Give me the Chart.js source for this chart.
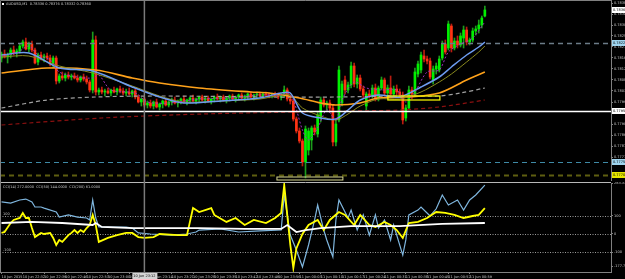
<!DOCTYPE html>
<html>
<head>
<meta charset="utf-8">
<script src="https://cdn.jsdelivr.net/npm/chart.js@4.4.0/dist/chart.umd.min.js"></script>
<style>
  html, body { margin: 0; padding: 0; background: #000; overflow: hidden; }
  #wrap { position: relative; width: 625px; height: 279px; }
  #mainChart { position: absolute; left: 0; top: 0; }
  #cciChart { position: absolute; left: 0; top: 182px; }
</style>
</head>
<body>
<div id="wrap">
  <canvas id="mainChart" width="625" height="182"></canvas>
  <canvas id="cciChart" width="625" height="97"></canvas>
</div>
<script>
// ============================================
// AUDUSD M1 - candles, MAs, CCI sub window
// ============================================

const symbolName = 'AUDUSD,M1';

// one entry per bar
const open = [
  0.78168,0.78184,0.78172,0.78180,0.78200,0.78188,0.78196,0.78216,0.78232,0.78204,
  0.78224,0.78200,0.78152,0.78180,0.78168,0.78176,0.78168,0.78144,0.78168,0.78076,
  0.78096,0.78088,0.78100,0.78092,0.78096,0.78088,0.78080,0.78092,0.78084,0.78072,
  0.78040,0.78240,0.78032,0.78040,0.78032,0.78036,0.78028,0.78040,0.78032,0.78044,
  0.78036,0.78028,0.78032,0.78024,0.78036,0.78012,0.77992,0.78004,0.77980,0.77988,
  0.77976,0.77992,0.77972,0.77984,0.77996,0.77980,0.77992,0.78000,0.77988,0.77996,
  0.78004,0.77992,0.78000,0.78008,0.77996,0.78004,0.78012,0.78000,0.78008,0.77996,
  0.78004,0.78012,0.78004,0.78012,0.78000,0.78008,0.78016,0.78004,0.78012,0.78020,
  0.78008,0.78016,0.78024,0.78012,0.78020,0.78024,0.78016,0.78024,0.78020,0.78016,
  0.78024,0.78016,0.78012,0.78020,0.78040,0.78004,0.77996,0.77924,0.77876,0.77836,
  0.77752,0.77800,0.77840,0.77888,0.77864,0.77928,0.78000,0.77980,0.77988,0.77968,
  0.77832,0.77920,0.77988,0.78080,0.78040,0.78060,0.78136,0.78064,0.78088,0.78044,
  0.77976,0.78024,0.78016,0.78048,0.78004,0.78048,0.78080,0.78028,0.78048,0.78024,
  0.78044,0.78032,0.78020,0.77928,0.77968,0.78040,0.78024,0.78104,0.78120,0.78176,
  0.78164,0.78156,0.78080,0.78124,0.78120,0.78168,0.78224,0.78208,0.78296,0.78208,
  0.78236,0.78220,0.78248,0.78280,0.78232,0.78240,0.78276,0.78284,0.78300,0.78336
];
const high = [
  0.78192,0.78200,0.78188,0.78208,0.78216,0.78204,0.78224,0.78240,0.78248,0.78232,
  0.78236,0.78208,0.78188,0.78192,0.78184,0.78188,0.78180,0.78176,0.78176,0.78104,
  0.78112,0.78108,0.78112,0.78104,0.78108,0.78100,0.78096,0.78104,0.78096,0.78080,
  0.78272,0.78256,0.78048,0.78052,0.78044,0.78048,0.78044,0.78052,0.78048,0.78056,
  0.78048,0.78044,0.78048,0.78040,0.78044,0.78020,0.78008,0.78012,0.77996,0.78000,
  0.77996,0.78004,0.77988,0.78000,0.78004,0.77996,0.78008,0.78012,0.78000,0.78008,
  0.78016,0.78004,0.78012,0.78020,0.78008,0.78016,0.78020,0.78012,0.78016,0.78008,
  0.78016,0.78024,0.78016,0.78020,0.78012,0.78020,0.78024,0.78016,0.78024,0.78028,
  0.78020,0.78028,0.78032,0.78024,0.78032,0.78032,0.78028,0.78032,0.78028,0.78028,
  0.78032,0.78028,0.78024,0.78056,0.78048,0.78016,0.78004,0.77932,0.77888,0.77844,
  0.77896,0.77888,0.77896,0.77900,0.77952,0.78012,0.78008,0.77996,0.78000,0.77980,
  0.77920,0.78136,0.78076,0.78096,0.78072,0.78152,0.78148,0.78100,0.78100,0.78056,
  0.78032,0.78040,0.78060,0.78064,0.78056,0.78092,0.78088,0.78060,0.78096,0.78056,
  0.78060,0.78044,0.78032,0.77980,0.78056,0.78052,0.78128,0.78156,0.78192,0.78200,
  0.78176,0.78168,0.78136,0.78148,0.78176,0.78236,0.78240,0.78316,0.78304,0.78248,
  0.78256,0.78268,0.78296,0.78292,0.78248,0.78288,0.78296,0.78320,0.78336,0.78376
];
const low = [
  0.78152,0.78168,0.78148,0.78168,0.78180,0.78172,0.78188,0.78208,0.78200,0.78192,
  0.78192,0.78144,0.78140,0.78160,0.78152,0.78160,0.78136,0.78132,0.78064,0.78068,
  0.78080,0.78076,0.78084,0.78080,0.78084,0.78072,0.78072,0.78076,0.78064,0.78032,
  0.78028,0.78020,0.78020,0.78024,0.78016,0.78024,0.78016,0.78028,0.78020,0.78028,
  0.78020,0.78016,0.78020,0.78012,0.78004,0.77988,0.77976,0.77972,0.77968,0.77968,
  0.77964,0.77968,0.77960,0.77968,0.77976,0.77972,0.77980,0.77984,0.77972,0.77984,
  0.77988,0.77980,0.77988,0.77992,0.77984,0.77992,0.77996,0.77988,0.77992,0.77984,
  0.77992,0.78000,0.77992,0.77996,0.77988,0.77996,0.78000,0.77992,0.78000,0.78004,
  0.77996,0.78004,0.78008,0.78000,0.78008,0.78012,0.78008,0.78012,0.78008,0.78008,
  0.78012,0.78004,0.78000,0.78012,0.77996,0.77984,0.77916,0.77868,0.77828,0.77736,
  0.77688,0.77780,0.77800,0.77860,0.77852,0.77912,0.77972,0.77960,0.77952,0.77816,
  0.77816,0.77912,0.77976,0.78024,0.78028,0.78048,0.78052,0.78048,0.78036,0.78008,
  0.77960,0.78008,0.78008,0.77996,0.77996,0.78040,0.78016,0.78012,0.78016,0.78012,
  0.78020,0.78012,0.77904,0.77916,0.77960,0.78004,0.78016,0.78092,0.78108,0.78152,
  0.78144,0.78084,0.78064,0.78104,0.78112,0.78160,0.78184,0.78200,0.78192,0.78200,
  0.78208,0.78212,0.78208,0.78220,0.78220,0.78232,0.78260,0.78268,0.78288,0.78332
];
const close = [
  0.78184,0.78172,0.78180,0.78200,0.78188,0.78196,0.78216,0.78232,0.78204,0.78224,
  0.78200,0.78148,0.78180,0.78168,0.78176,0.78168,0.78144,0.78168,0.78076,0.78096,
  0.78088,0.78100,0.78092,0.78096,0.78088,0.78080,0.78092,0.78084,0.78072,0.78040,
  0.78240,0.78032,0.78040,0.78032,0.78036,0.78028,0.78040,0.78032,0.78044,0.78036,
  0.78028,0.78032,0.78024,0.78036,0.78012,0.77992,0.78004,0.77980,0.77988,0.77976,
  0.77992,0.77972,0.77984,0.77996,0.77980,0.77992,0.78000,0.77988,0.77996,0.78004,
  0.77992,0.78000,0.78008,0.77996,0.78004,0.78012,0.78000,0.78008,0.77996,0.78004,
  0.78012,0.78004,0.78012,0.78000,0.78008,0.78016,0.78004,0.78012,0.78020,0.78008,
  0.78016,0.78024,0.78012,0.78020,0.78024,0.78016,0.78024,0.78020,0.78016,0.78024,
  0.78016,0.78012,0.78020,0.78040,0.78004,0.77996,0.77924,0.77876,0.77836,0.77752,
  0.77884,0.77876,0.77888,0.77872,0.77940,0.78000,0.77980,0.77988,0.77968,0.77832,
  0.77904,0.78120,0.78064,0.78040,0.78060,0.78136,0.78064,0.78088,0.78044,0.78020,
  0.78024,0.78016,0.78048,0.78004,0.78048,0.78080,0.78028,0.78048,0.78024,0.78044,
  0.78032,0.78020,0.77920,0.77968,0.78040,0.78024,0.78112,0.78144,0.78180,0.78164,
  0.78156,0.78092,0.78124,0.78136,0.78164,0.78224,0.78192,0.78304,0.78208,0.78236,
  0.78220,0.78256,0.78280,0.78232,0.78240,0.78276,0.78284,0.78300,0.78328,0.78360
];

const maFastBars = [0,9,19,30,43,52,60,72,85,92,95,99,105,110,114,118,124,131,138,144,148,153,157,159];
const maFast = [0.78180,0.78188,0.78128,0.78116,0.78052,0.78012,0.77988,0.77996,0.78008,0.78028,0.78028,0.77948,
                0.77928,0.77924,0.77960,0.78000,0.78020,0.78012,0.78052,0.78092,0.78132,0.78180,0.78212,0.78232];
const maMid = [0.78172,0.78176,0.78136,0.78108,0.78056,0.78016,0.77992,0.77996,0.78004,0.78020,0.78020,0.77968,
               0.77936,0.77920,0.77944,0.77976,0.78004,0.78004,0.78032,0.78072,0.78104,0.78152,0.78192,0.78216];
const maShortBars = [0,5,9,12,16,19,25,30,32,36,44,48,55,65,75,85,92,94,96,99,101,104,107,110,112,116,120,125,130,133,136,140,144,147,151,155,159];
const maShort = [0.78176,0.78188,0.78216,0.78180,0.78160,0.78112,0.78092,0.78088,0.78100,0.78040,0.78028,0.77992,
                 0.77988,0.78004,0.78008,0.78020,0.78020,0.78028,0.78000,0.77880,0.77840,0.77888,0.77960,0.77920,
                 0.78000,0.78072,0.78048,0.78040,0.78040,0.77992,0.78032,0.78112,0.78120,0.78192,0.78224,0.78248,0.78312];
const ma50Bars = [0,15,31,43,52,65,82,88,98,105,110,118,124,134,144,153,159];
const ma50 = [0.78108,0.78128,0.78120,0.78088,0.78068,0.78048,0.78032,0.78028,0.78008,0.77988,0.77980,0.77988,
              0.78008,0.78012,0.78028,0.78080,0.78112];
const ma100Bars = [0,15,31,52,88,110,131,144,151,159];
const ma100 = [0.77968,0.78000,0.78012,0.78016,0.78012,0.78012,0.78016,0.78016,0.78028,0.78048];
const ma200Bars = [0,33,66,98,115,131,144,159];
const ma200 = [0.77900,0.77928,0.77944,0.77952,0.77956,0.77960,0.77972,0.78000];

// horizontal lines / objects
const levelPrices = [0.78228, 0.77956, 0.77752, 0.77700];
const zoneBars = [127.1, 144.2];
const zonePrices = [0.78016, 0.78000];
const lowBoxBars = [90.6, 112.3];
const lowBoxPrices = [0.77692, 0.77680];

// price axis
const priceTicks = [0.78388,0.78344,0.78300,0.78256,0.78212,0.78168,0.78124,0.78080,0.78036,0.77992,
                    0.77948,0.77904,0.77860,0.77816,0.77772];

// CCI sub window
const cci14Bars = [0,3,6,8,10,11,13,14,18,19,22,25,28,29,30,31,32,36,41,43,45,49,56,61,64,65,72,78,85,92,93,95,97,99,101,
                   103,104,106,107,109,110,111,114,115,117,119,121,123,124,126,128,129,132,133,134,137,138,141,143,145,147,150,152,154,156,159];
const cci14 = [178,172,189,194,178,150,150,144,122,94,106,94,89,78,189,89,39,39,39,33,6,0,-6,0,11,22,28,11,17,22,217,-6,-89,-183,-61,
               78,161,22,-33,-128,78,189,89,133,22,106,-6,106,33,78,-33,50,-117,-33,106,133,150,100,140,217,161,189,133,189,217,272];
const cci50Bars = [0,1,3,4,6,7,8,9,10,11,13,14,16,17,18,19,20,22,23,24,25,26,27,28,29,30,31,32,35,38,41,43,45,47,50,52,58,61,63,64,
                   65,69,70,74,77,80,83,87,90,92,93,94,95,96,97,99,101,104,106,108,111,113,116,118,121,123,126,128,130,132,134,137,140,143,146,149,152,155,157,159];
const cci50 = [6,11,61,78,89,117,89,89,33,-17,6,0,6,-22,-61,-33,-44,-6,6,22,6,22,11,33,50,106,50,-44,-22,-6,6,6,-17,-22,-17,0,-6,-6,144,133,
               122,144,106,67,89,50,78,61,89,117,272,106,-61,-189,-80,0,50,78,22,78,122,106,50,106,50,39,67,50,22,-22,61,67,89,122,117,106,89,100,106,144];
const cci200Bars = [0,10,20,30,31,33,43,56,65,80,92,94,97,100,105,115,131,145,159];
const cci200 = [61,67,61,50,61,39,33,33,33,28,28,50,11,22,33,44,44,56,61];
const cciLevels = [100, 0, -100];
const cciTicks = [283.3333, 100, 0, -100, -177.7778];

// time axis, one label every 7 bars
const timeLabels = ['10 Jun 2015','10 Jun 22:32','10 Jun 22:39','10 Jun 22:46','10 Jun 22:53','10 Jun 23:00','10 Jun 23:07',
                    '10 Jun 23:14','10 Jun 23:21','10 Jun 23:28','10 Jun 23:35','10 Jun 23:42','10 Jun 23:49','10 Jun 23:56',
                    '11 Jun 00:03','11 Jun 00:10','11 Jun 00:17','11 Jun 00:24','11 Jun 00:31','11 Jun 00:38','11 Jun 00:45',
                    '11 Jun 00:52','11 Jun 00:59'];
const cursorBar = 47;
const cursorTime = '10 Jun 23:12';

// ============================================

Chart.defaults.font.family = "'DejaVu Sans', sans-serif";
Chart.defaults.font.size = 3.5;
Chart.defaults.color = '#c8c8c8';
Chart.defaults.animation = false;

const FONT = "3.5px 'DejaVu Sans', sans-serif";
const last = close.length - 1;

function pts(bars, vals) {
    return bars.map((b, i) => ({ x: b, y: vals[i] }));
}

function line(label, data, color, width, dash, smooth) {
    return {
        type: 'line', label, data,
        borderColor: color, borderWidth: width, borderDash: dash || [],
        pointRadius: 0, fill: false, order: 0,
        tension: smooth ? 0.3 : 0
    };
}

function tag(ctx, x, y, text, bg, fg) {
    ctx.fillStyle = bg;
    ctx.fillRect(x, y - 3, 13, 6);
    ctx.fillStyle = fg;
    ctx.font = FONT;
    ctx.textAlign = 'left';
    ctx.textBaseline = 'middle';
    ctx.fillText(text, x + 1, y);
}

const levelStyles = [
    { color: '#6c7c88', width: 1.3, dash: [5, 4], tag: '#9fd4ee' },
    { color: '#ffffff', width: 1.5, dash: [],     tag: '#ffffff' },
    { color: '#3f8aa6', width: 1.2, dash: [5, 4], tag: '#9fd4ee' },
    { color: '#5e5e10', width: 1.8, dash: [5, 4], tag: '#e6e600' }
];

const mainOverlay = {
    id: 'mainOverlay',
    afterDraw(chart) {
        const { ctx, chartArea: a, scales: { x, y } } = chart;
        ctx.save();

        levelPrices.forEach((p, i) => {
            const s = levelStyles[i];
            const py = Math.round(y.getPixelForValue(p)) + 0.5;
            ctx.strokeStyle = s.color;
            ctx.lineWidth = s.width;
            ctx.setLineDash(s.dash);
            ctx.beginPath();
            ctx.moveTo(a.left, py);
            ctx.lineTo(a.right, py);
            ctx.stroke();
        });
        ctx.setLineDash([]);

        // yellow zone + low marker
        ctx.strokeStyle = '#f0f000';
        ctx.lineWidth = 1.3;
        let x0 = x.getPixelForValue(zoneBars[0]), x1 = x.getPixelForValue(zoneBars[1]);
        let y0 = y.getPixelForValue(zonePrices[0]), y1 = y.getPixelForValue(zonePrices[1]);
        ctx.strokeRect(x0, y0, x1 - x0, y1 - y0);
        ctx.strokeStyle = '#d8d890';
        ctx.lineWidth = 1;
        x0 = x.getPixelForValue(lowBoxBars[0]); x1 = x.getPixelForValue(lowBoxBars[1]);
        y0 = y.getPixelForValue(lowBoxPrices[0]); y1 = y.getPixelForValue(lowBoxPrices[1]);
        ctx.strokeRect(x0, y0, x1 - x0, y1 - y0);

        // cursor line
        const cx = x.getPixelForValue(cursorBar);
        ctx.strokeStyle = '#7a7a7a';
        ctx.lineWidth = 1.5;
        ctx.beginPath();
        ctx.moveTo(cx, 0);
        ctx.lineTo(cx, chart.height);
        ctx.stroke();

        // frame
        ctx.strokeStyle = '#808080';
        ctx.lineWidth = 1;
        ctx.beginPath();
        ctx.moveTo(0.5, chart.height);
        ctx.lineTo(0.5, 0.5);
        ctx.lineTo(a.right, 0.5);
        ctx.stroke();

        // title
        ctx.fillStyle = '#ffffff';
        ctx.fillRect(2, 3, 2, 2);
        ctx.font = FONT;
        ctx.textAlign = 'left';
        ctx.textBaseline = 'middle';
        ctx.fillStyle = '#d0d0d0';
        ctx.fillText(`${symbolName}  ${open[last].toFixed(5)} ${high[last].toFixed(5)} ${low[last].toFixed(5)} ${close[last].toFixed(5)}`, 6, 4);

        // price tags on the axis
        levelPrices.forEach((p, i) => {
            tag(ctx, a.right + 1, y.getPixelForValue(p), p.toFixed(5), levelStyles[i].tag, '#000000');
        });
        tag(ctx, a.right + 1, y.getPixelForValue(close[last]), close[last].toFixed(5), '#ffffff', '#000000');

        ctx.restore();
    }
};

new Chart(document.getElementById('mainChart'), {
    type: 'bar',
    data: {
        datasets: [
            line('MA 5', pts(maShortBars, maShort), '#a030c0', 1, [2, 2], true),
            line('EMA 13', pts(maFastBars, maFast), '#6d9cf0', 1.5, [], true),
            line('EMA 21', pts(maFastBars, maMid), '#8a8a1e', 1, [], true),
            line('MA 50', pts(ma50Bars, ma50), '#ffa21a', 1.6, [], true),
            line('MA 100', pts(ma100Bars, ma100), '#a0a0a0', 1.2, [4, 3], true),
            line('MA 200', pts(ma200Bars, ma200), '#8b1010', 1.2, [4, 3], true),
            {
                label: 'body',
                data: open.map((o, i) => ({ x: i, y: [o, close[i]] })),
                backgroundColor: close.map((c, i) => c >= open[i] ? '#00f000' : '#ff3414'),
                barThickness: 2, grouped: false, minBarLength: 1, order: 1
            },
            {
                label: 'wick',
                data: low.map((l, i) => ({ x: i, y: [l, high[i]] })),
                backgroundColor: close.map((c, i) => c >= open[i] ? '#1c9c1c' : '#b81c10'),
                barThickness: 1, grouped: false, order: 2
            }
        ]
    },
    options: {
        responsive: false,
        animation: false,
        layout: { padding: { left: 0, right: 0, top: 0, bottom: 2 } },
        plugins: { legend: { display: false }, tooltip: { enabled: false } },
        scales: {
            x: { type: 'linear', min: -0.5, max: 200.5, offset: false, display: false },
            y: {
                position: 'right', min: 0.7768, max: 0.7840,
                afterBuildTicks: s => { s.ticks = priceTicks.map(v => ({ value: v })); },
                afterFit: s => { s.width = 14; s.paddingTop = 0; s.paddingBottom = 0; },
                ticks: { padding: 1, color: '#c8c8c8', callback: v => v.toFixed(5) },
                grid: { drawOnChartArea: false, tickLength: 2, color: '#808080' },
                border: { color: '#808080' }
            }
        }
    },
    plugins: [mainOverlay]
});

const cciOverlay = {
    id: 'cciOverlay',
    beforeDatasetsDraw(chart) {
        const { ctx, chartArea: a, scales: { y } } = chart;
        ctx.save();
        ctx.strokeStyle = '#9a9a9a';
        ctx.lineWidth = 1;
        ctx.setLineDash([1, 1.5]);
        ctx.font = FONT;
        ctx.fillStyle = '#c0c0c0';
        ctx.textAlign = 'left';
        ctx.textBaseline = 'bottom';
        cciLevels.forEach(v => {
            const py = Math.round(y.getPixelForValue(v)) + 0.5;
            ctx.beginPath();
            ctx.moveTo(a.left, py);
            ctx.lineTo(a.right, py);
            ctx.stroke();
            ctx.fillText(String(v), 3, py - 0.5);
        });
        ctx.restore();
    },
    afterDraw(chart) {
        const { ctx, chartArea: a, scales: { x } } = chart;
        ctx.save();
        // separator + left edge
        ctx.strokeStyle = '#b8b8b8';
        ctx.lineWidth = 1;
        ctx.beginPath();
        ctx.moveTo(0, 0.5);
        ctx.lineTo(a.right, 0.5);
        ctx.stroke();
        ctx.strokeStyle = '#808080';
        ctx.beginPath();
        ctx.moveTo(0.5, 0);
        ctx.lineTo(0.5, a.bottom);
        ctx.stroke();

        const cx = x.getPixelForValue(cursorBar);
        ctx.strokeStyle = '#7a7a7a';
        ctx.lineWidth = 1.5;
        ctx.beginPath();
        ctx.moveTo(cx, 0);
        ctx.lineTo(cx, chart.height);
        ctx.stroke();

        ctx.font = FONT;
        ctx.textAlign = 'left';
        ctx.textBaseline = 'middle';
        ctx.fillStyle = '#c8c8c8';
        ctx.fillText(`CCI(14) ${cci14[cci14.length - 1].toFixed(4)}  CCI(50) ${cci50[cci50.length - 1].toFixed(4)}  CCI(200) ${cci200[cci200.length - 1].toFixed(4)}`, 3, 5);

        // time under the cursor
        ctx.fillStyle = '#d4d4d4';
        ctx.fillRect(cx - 12, a.bottom + 1, 25, 6);
        ctx.fillStyle = '#000000';
        ctx.textAlign = 'center';
        ctx.fillText(cursorTime, cx, a.bottom + 4);
        ctx.restore();
    }
};

new Chart(document.getElementById('cciChart'), {
    type: 'line',
    data: {
        datasets: [
            line('CCI(200)', pts(cci200Bars, cci200), '#ffffff', 1.8),
            line('CCI(50)', pts(cci50Bars, cci50), '#ffff00', 1.8),
            line('CCI(14)', pts(cci14Bars, cci14), '#7fb6de', 1.2)
        ]
    },
    options: {
        responsive: false,
        animation: false,
        layout: { padding: { left: 0, right: 0, top: 1, bottom: 0 } },
        plugins: { legend: { display: false }, tooltip: { enabled: false } },
        scales: {
            x: {
                type: 'linear', min: -0.5, max: 200.5, offset: false,
                afterBuildTicks: s => { s.ticks = timeLabels.map((t, i) => ({ value: i * 7 })); },
                afterFit: s => { s.height = 7; s.paddingLeft = 0; s.paddingRight = 0; },
                ticks: { align: 'start', autoSkip: false, maxRotation: 0, padding: 0.5, color: '#c8c8c8',
                         callback: v => timeLabels[v / 7] },
                grid: { drawOnChartArea: false, tickLength: 2, color: '#808080' },
                border: { color: '#808080' }
            },
            y: {
                position: 'right', min: -211.1111, max: 283.3333,
                afterBuildTicks: s => { s.ticks = cciTicks.map(v => ({ value: v })); },
                afterFit: s => { s.width = 14; s.paddingTop = 0; s.paddingBottom = 0; },
                ticks: { padding: 1, color: '#c8c8c8', callback: v => (v === 100 || v === 0 || v === -100) ? String(v) : v.toFixed(4) },
                grid: { drawOnChartArea: false, tickLength: 2, color: '#808080' },
                border: { color: '#808080' }
            }
        }
    },
    plugins: [cciOverlay]
});
</script>
</body>
</html>
